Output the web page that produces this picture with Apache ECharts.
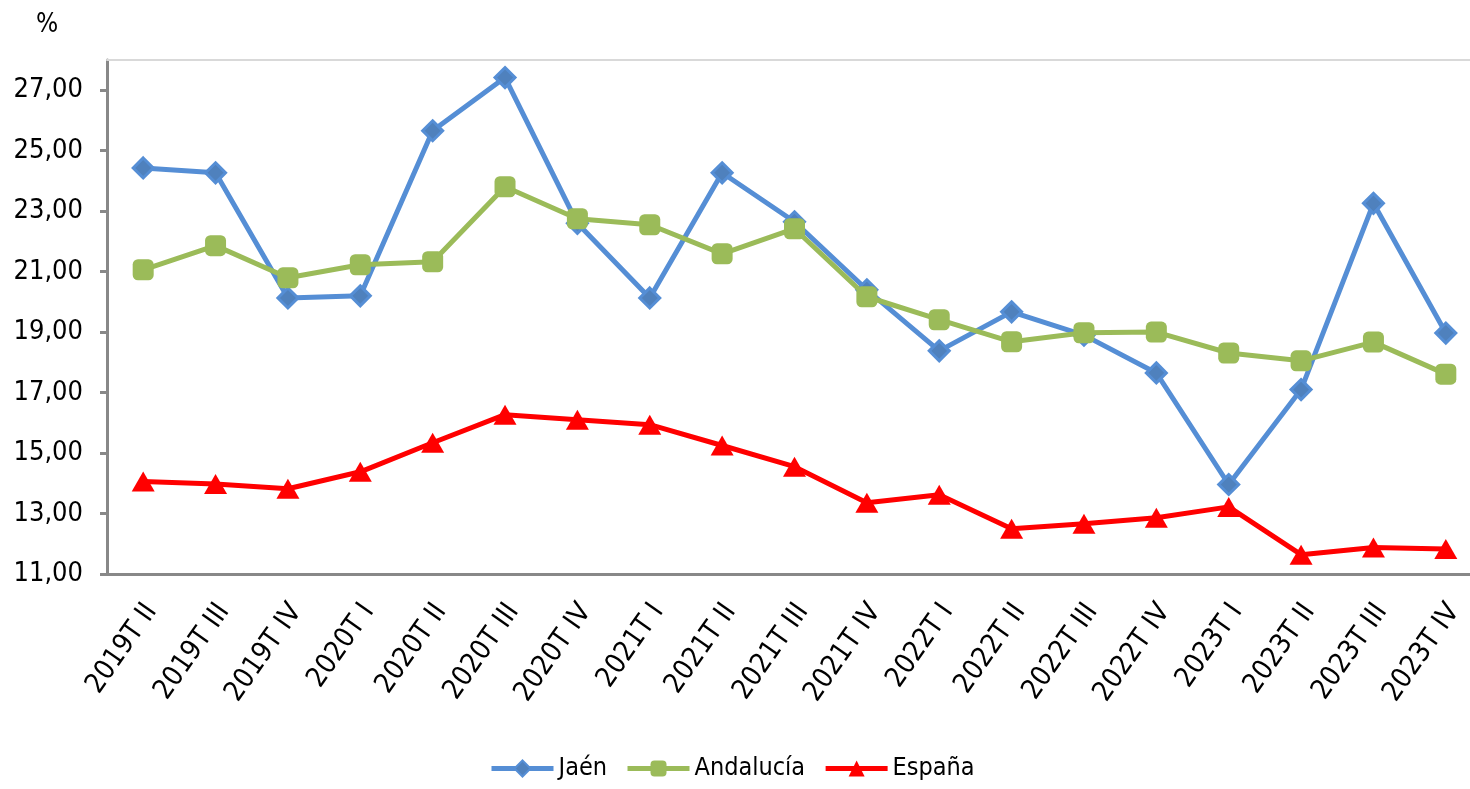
<!DOCTYPE html>
<html>
<head>
<meta charset="utf-8">
<script src="https://cdn.jsdelivr.net/npm/echarts@6/dist/echarts.min.js"></script>
<style>
  html, body { margin: 0; padding: 0; background: #fff; overflow: hidden; }
  #chart { width: 1484px; height: 789px; }
</style>
</head>
<body>
<div id="chart"></div>
<script>
const categories = ['2019T II', '2019T III', '2019T IV', '2020T I', '2020T II', '2020T III', '2020T IV',
  '2021T I', '2021T II', '2021T III', '2021T IV', '2022T I', '2022T II', '2022T III', '2022T IV',
  '2023T I', '2023T II', '2023T III', '2023T IV'];

const jaen = [24.43, 24.27, 20.13, 20.2, 25.66, 27.42, 22.6, 20.13, 24.27, 22.65, 20.4, 18.38,
  19.67, 18.9, 17.65, 13.96, 17.1, 23.26, 18.97];
const andalucia = [21.06, 21.86, 20.8, 21.23, 21.33, 23.81, 22.75, 22.55, 21.59, 22.42, 20.17, 19.41,
  18.68, 18.98, 19.0, 18.31, 18.05, 18.67, 17.61];
const espana = [14.06, 13.98, 13.82, 14.38, 15.34, 16.27, 16.1, 15.94, 15.25, 14.55, 13.36, 13.62,
  12.5, 12.66, 12.86, 13.22, 11.64, 11.88, 11.83];

const font = '"DejaVu Sans Condensed", "DejaVu Sans", sans-serif';
const diamond = 'path://M0,-1 L1,0 L0,1 L-1,0 Z';

const chart = echarts.init(document.getElementById('chart'));

chart.setOption({
  animation: false,
  textStyle: { fontFamily: font },
  title: {
    text: '%', left: 31, top: 7,
    textStyle: { fontFamily: font, fontSize: 26, fontWeight: 'normal', color: '#000' }
  },
  legend: {
    bottom: 3, left: 484,
    itemWidth: 62, itemHeight: 20, itemGap: 18,
    lineStyle: { width: 5 },
    textStyle: { fontFamily: font, fontSize: 25, color: '#000' },
    data: ['Jaén', 'Andalucía', 'España']
  },
  grid: { left: 107, right: 2, top: 60, bottom: 215, containLabel: false },
  xAxis: [{
    type: 'category',
    data: categories,
    axisLine: { lineStyle: { color: '#888', width: 3 } },
    axisTick: { lineStyle: { color: '#888', width: 3 }, length: 8 },
    axisLabel: {
      rotate: 55, fontSize: 28, color: '#000', interval: 0, margin: 27, fontFamily: font,
      verticalAlign: 'top', lineHeight: 20
    }
  }, {
    type: 'category',
    position: 'top',
    data: categories,
    axisLine: { lineStyle: { color: '#d9d9d9', width: 2 } },
    axisTick: { show: false },
    axisLabel: { show: false }
  }],
  yAxis: {
    type: 'value', min: 11, max: 28, interval: 2,
    axisLine: { show: true, lineStyle: { color: '#888', width: 3 } },
    axisTick: { show: true, length: 7, lineStyle: { color: '#888', width: 3 } },
    splitLine: { show: false },
    axisLabel: {
      fontSize: 27, color: '#000', margin: 24, showMaxLabel: false, fontFamily: font,
      formatter: v => v.toFixed(2).replace('.', ',')
    }
  },
  series: [{
    name: 'Jaén', type: 'line', data: jaen,
    symbol: diamond, symbolSize: 20,
    lineStyle: { color: '#558ED5', width: 5 },
    itemStyle: { color: '#4F81BD', borderColor: '#558ED5', borderWidth: 3 },
    z: 2
  }, {
    name: 'Andalucía', type: 'line', data: andalucia,
    symbol: 'roundRect', symbolSize: 21,
    lineStyle: { color: '#9BBB59', width: 5 },
    itemStyle: { color: '#9BBB59' },
    z: 3
  }, {
    name: 'España', type: 'line', data: espana,
    symbol: 'triangle', symbolSize: [23, 20],
    lineStyle: { color: '#FF0000', width: 5 },
    itemStyle: { color: '#FF0000' },
    z: 4
  }]
});
</script>
</body>
</html>
